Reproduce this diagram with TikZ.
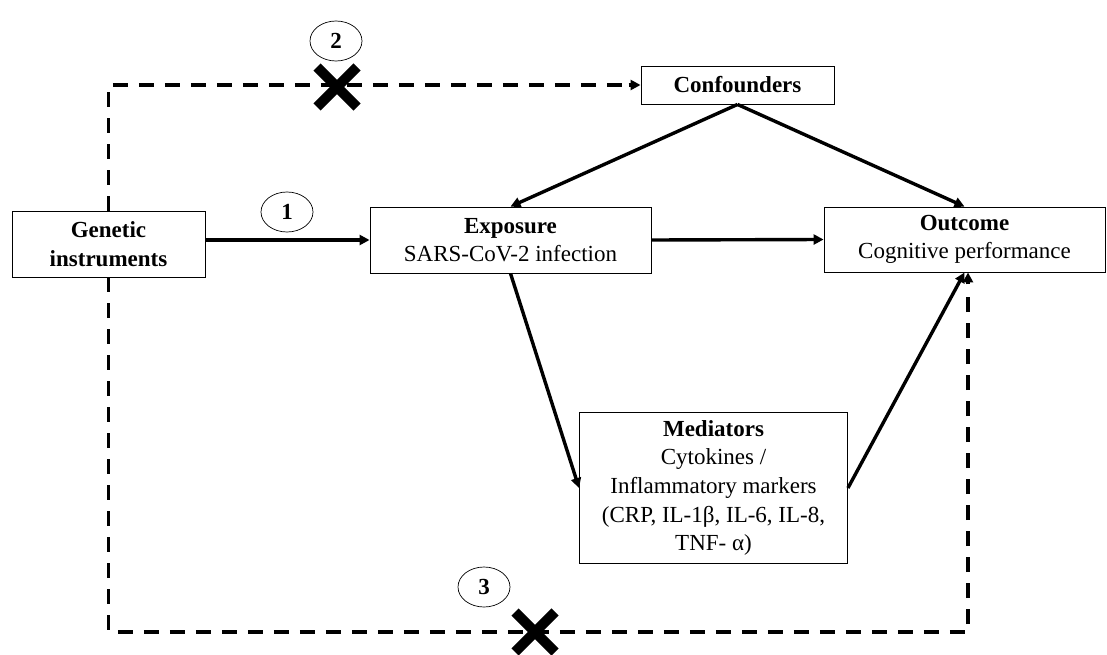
\documentclass[tikz,border=0pt]{standalone}
\usepackage{fontspec}
\setmainfont{Liberation Serif}
\usetikzlibrary{arrows.meta,shapes.geometric,calc}
\begin{document}
\begin{tikzpicture}[x=1pt,y=-1pt,
  box/.style={draw, line width=0.9pt, rectangle, align=center, inner sep=0pt,
    font=\fontsize{23}{28.7}\selectfont},
  num/.style={draw, line width=0.7pt, ellipse, inner sep=0pt, minimum width=52pt,
    minimum height=40pt, font=\fontsize{23}{26}\selectfont\bfseries},
  conn/.style={line width=3.4pt, -{Triangle[length=10pt,width=10pt]}},
  dconn/.style={line width=3.4pt, dash pattern=on 15pt off 11pt},
  cross/.style={line width=10pt}]
\useasboundingbox (0,0) rectangle (1107,655);
\node[box, minimum width=193pt, minimum height=66pt] (gen) at (108.5,244) {\textbf{Genetic}\\\textbf{instruments}};
\node[box, minimum width=281pt, minimum height=66pt] (exp) at (510.5,240) {\textbf{Exposure}\\SARS-CoV-2 infection};
\node[box, minimum width=281pt, minimum height=65pt] (out) at (964.5,239.5) {\textbf{Outcome}\\Cognitive performance};
\node[box, minimum width=193pt, minimum height=38pt] (conf) at (737.5,85) {\textbf{Confounders}};
\node[box, minimum width=268pt, minimum height=151pt] (med) at (713.5,488) {\textbf{Mediators}\\Cytokines /\\Inflammatory markers\\(CRP, IL-1β, IL-6, IL-8,\\TNF- α)};
\node[num] (c1) at (287,212) {1};
\node[num] (c2) at (336,41) {2};
\node[num] (c3) at (484,587) {3};
\coordinate (bot) at (108,632);
% solid arrows
\draw[conn] (gen.east |- exp.west) -- (exp.west);
\draw[conn] (exp.east) -- (out.west);
\draw[conn] (conf.south) -- (exp.north);
\draw[conn] (conf.south) -- (out.north);
\draw[conn] (exp.south) -- (med.west);
\draw[conn] (med.east) -- (out.south);
% dashed paths
\draw[dconn] (gen.north) |- ($(conf.west)+(-14,0)$);
\draw[line width=3.4pt, -{Triangle[length=10pt,width=10pt]}] ($(conf.west)+(-12,0)$) -- (conf.west);
\draw[dconn] (gen.south) -- (gen.south |- bot) -| ($(out.south)+(3.5,14)$);
\draw[line width=3.4pt, -{Triangle[length=10pt,width=10pt]}] ($(out.south)+(3.5,12)$) -- ($(out.south)+(3.5,0)$);
% crosses
\coordinate (x2) at (337,87);
\coordinate (x3) at (535,632);
\draw[cross] ($(x2)+(-20,-20)$) -- ($(x2)+(20,20)$);
\draw[cross] ($(x2)+(-20,20)$) -- ($(x2)+(20,-20)$);
\draw[cross] ($(x3)+(-20,-20)$) -- ($(x3)+(20,20)$);
\draw[cross] ($(x3)+(-20,20)$) -- ($(x3)+(20,-20)$);
\end{tikzpicture}
\end{document}
